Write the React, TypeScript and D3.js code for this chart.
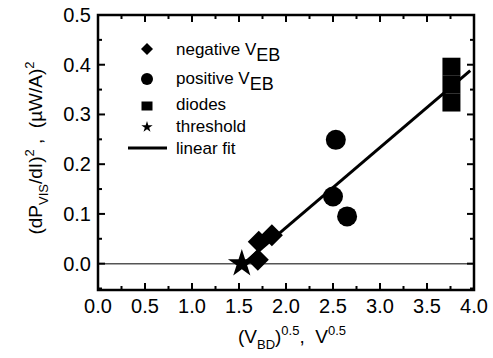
import * as d3 from "d3";
import React, { useEffect, useRef } from "react";

// values
const negativeVEB = [
  { x: 1.7, y: 0.008 },
  { x: 1.71, y: 0.044 },
  { x: 1.85, y: 0.057 },
];
const positiveVEB = [
  { x: 2.5, y: 0.135 },
  { x: 2.53, y: 0.249 },
  { x: 2.65, y: 0.095 },
];
const diodes = [
  { x: 3.76, y: 0.396 },
  { x: 3.76, y: 0.36 },
  { x: 3.76, y: 0.324 },
];
const threshold = [{ x: 1.53, y: 0.0 }];
const linearFit = [
  { x: 1.55, y: 0.0 },
  { x: 3.96, y: 0.388 },
];
const xTicks = [0, 0.5, 1, 1.5, 2, 2.5, 3, 3.5, 4];
const yTicks = [0, 0.1, 0.2, 0.3, 0.4, 0.5];

const FONT = "'Liberation Sans', Arial, sans-serif";

type Piece = { t: string; k?: "sub" | "sup" };

const richText = (sel: any, pieces: Piece[], size: number, small: number, sub: number, sup: number) => {
  let shift = 0;
  pieces.forEach((p) => {
    const target = p.k === "sub" ? sub : p.k === "sup" ? -sup : 0;
    sel
      .append("tspan")
      .attr("dy", target - shift)
      .style("font-size", `${p.k ? small : size}px`)
      .text(p.t);
    shift = target;
  });
};

const diamondPath = (r: number) => `M0,${-r}L${r},0L0,${r}L${-r},0Z`;

const App = () => {
  const ref = useRef<SVGSVGElement>(null);

  useEffect(() => {
    const width = 493;
    const height = 358;
    const left = 98;
    const right = 474;
    const top = 15;
    const bottom = 290;

    const svg = d3.select(ref.current).attr("width", width).attr("height", height);
    svg.selectAll("*").remove();

    const x = d3.scaleLinear().domain([0, 4]).range([left, right]);
    const y = d3.scaleLinear().domain([-0.053, 0.5]).range([bottom, top]);

    svg.append("rect").attr("width", width).attr("height", height).attr("fill", "white");

    // zero line
    svg
      .append("line")
      .attr("x1", left)
      .attr("x2", right)
      .attr("y1", y(0))
      .attr("y2", y(0))
      .attr("stroke", "#555")
      .attr("stroke-width", 1.5);

    // ticks (inward, on all four sides)
    const g = svg.append("g").attr("stroke", "black").attr("stroke-width", 2);
    d3.range(0, 4.001, 0.25).forEach((v, i) => {
      const len = i % 2 === 0 ? 7 : 4;
      g.append("line").attr("x1", x(v)).attr("x2", x(v)).attr("y1", bottom).attr("y2", bottom - len);
      g.append("line").attr("x1", x(v)).attr("x2", x(v)).attr("y1", top).attr("y2", top + len);
    });
    d3.range(-0.05, 0.5001, 0.05).forEach((v) => {
      const major = Math.abs(Math.round(v * 10) - v * 10) < 1e-6;
      const len = major ? 7 : 4;
      g.append("line").attr("x1", left).attr("x2", left + len).attr("y1", y(v)).attr("y2", y(v));
      g.append("line").attr("x1", right).attr("x2", right - len).attr("y1", y(v)).attr("y2", y(v));
    });

    svg
      .append("rect")
      .attr("x", left)
      .attr("y", top)
      .attr("width", right - left)
      .attr("height", bottom - top)
      .attr("fill", "none")
      .attr("stroke", "black")
      .attr("stroke-width", 2.5);

    // tick labels
    svg
      .selectAll(".xl")
      .data(xTicks)
      .enter()
      .append("text")
      .attr("x", (d) => x(d))
      .attr("y", 313)
      .attr("text-anchor", "middle")
      .style("font-family", FONT)
      .style("font-size", "20px")
      .text((d) => d3.format(".1f")(d));

    svg
      .selectAll(".yl")
      .data(yTicks)
      .enter()
      .append("text")
      .attr("x", 91)
      .attr("y", (d) => y(d) + 7)
      .attr("text-anchor", "end")
      .style("font-family", FONT)
      .style("font-size", "20px")
      .text((d) => d3.format(".1f")(d));

    // axis titles
    const xt = svg
      .append("text")
      .attr("x", 292)
      .attr("y", 343)
      .attr("text-anchor", "middle")
      .style("font-family", FONT)
      .style("font-size", "19px")
      .style("white-space", "pre");
    richText(
      xt,
      [{ t: "(V" }, { t: "BD", k: "sub" }, { t: ")" }, { t: "0.5", k: "sup" }, { t: ",  V" }, { t: "0.5", k: "sup" }],
      19,
      13,
      6,
      8
    );

    const yt = svg
      .append("text")
      .attr("transform", "translate(42,148) rotate(-90)")
      .attr("text-anchor", "middle")
      .style("font-family", FONT)
      .style("font-size", "19px")
      .style("white-space", "pre");
    richText(
      yt,
      [
        { t: "(dP" },
        { t: "VIS", k: "sub" },
        { t: "/dI)" },
        { t: "2", k: "sup" },
        { t: " ,  (\u00b5W/A)" },
        { t: "2", k: "sup" },
      ],
      19,
      13,
      6,
      8
    );

    // linear fit
    svg
      .append("path")
      .datum(linearFit)
      .attr(
        "d",
        d3
          .line<{ x: number; y: number }>()
          .x((d) => x(d.x))
          .y((d) => y(d.y))
      )
      .attr("fill", "none")
      .attr("stroke", "black")
      .attr("stroke-width", 3);

    // markers
    svg
      .selectAll(".dia")
      .data(negativeVEB)
      .enter()
      .append("path")
      .attr("d", diamondPath(11))
      .attr("transform", (d) => `translate(${x(d.x)},${y(d.y)})`);

    svg
      .selectAll(".cir")
      .data(positiveVEB)
      .enter()
      .append("circle")
      .attr("cx", (d) => x(d.x))
      .attr("cy", (d) => y(d.y))
      .attr("r", 10);

    svg
      .selectAll(".sq")
      .data(diodes)
      .enter()
      .append("rect")
      .attr("x", (d) => x(d.x) - 9)
      .attr("y", (d) => y(d.y) - 9)
      .attr("width", 18)
      .attr("height", 18);

    svg
      .selectAll(".star")
      .data(threshold)
      .enter()
      .append("path")
      .attr("d", d3.symbol(d3.symbolStar, 240)())
      .attr("transform", (d) => `translate(${x(d.x)},${y(d.y)})`);

    // legend
    const lg = svg.append("g").style("font-family", FONT);
    const sx = 147;
    lg.append("path").attr("d", diamondPath(6)).attr("transform", `translate(${sx},49)`);
    lg.append("circle").attr("cx", sx).attr("cy", 79).attr("r", 6);
    lg.append("rect").attr("x", sx - 5.5).attr("y", 101.5).attr("width", 11).attr("height", 9);
    lg.append("path").attr("d", d3.symbol(d3.symbolStar, 40)()).attr("transform", `translate(${sx},127)`);
    lg.append("line").attr("x1", 128).attr("x2", 167).attr("y1", 148).attr("y2", 148).attr("stroke", "black").attr("stroke-width", 3);

    const legendRows: { y: number; pieces: Piece[] }[] = [
      { y: 55, pieces: [{ t: "negative V" }, { t: "EB", k: "sub" }] },
      { y: 84, pieces: [{ t: "positive V" }, { t: "EB", k: "sub" }] },
      { y: 110, pieces: [{ t: "diodes" }] },
      { y: 132, pieces: [{ t: "threshold" }] },
      { y: 154, pieces: [{ t: "linear fit" }] },
    ];
    legendRows.forEach((r) => {
      const t = lg.append("text").attr("x", 176).attr("y", r.y).style("font-size", "17px");
      richText(t, r.pieces, 17, 18, 6, 0);
    });
  }, []);

  return <svg ref={ref} style={{ position: "absolute", left: 0, top: 0 }}></svg>;
};

export default App;
